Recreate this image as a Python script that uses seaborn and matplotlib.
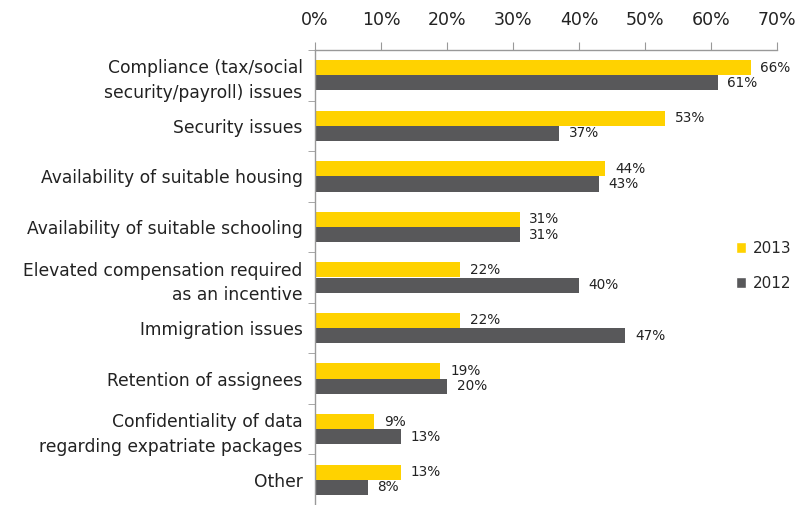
import matplotlib
matplotlib.use("Agg")
import matplotlib.pyplot as plt
import seaborn as sns
import pandas as pd
import numpy as np
from matplotlib.ticker import FixedLocator
from matplotlib.patches import Patch

categories = [
    "Compliance (tax/social\nsecurity/payroll) issues",
    "Security issues",
    "Availability of suitable housing",
    "Availability of suitable schooling",
    "Elevated compensation required\nas an incentive",
    "Immigration issues",
    "Retention of assignees",
    "Confidentiality of data\nregarding expatriate packages",
    "Other",
]
values_2013 = [66, 53, 44, 31, 22, 22, 19, 9, 13]
values_2012 = [61, 37, 43, 31, 40, 47, 20, 13, 8]
years = ["2013", "2012"]
xticks = [0, 10, 20, 30, 40, 50, 60, 70]

colors = {"2013": "#FFD200", "2012": "#58585A"}

df = pd.DataFrame({
    "category": categories * 2,
    "value": values_2013 + values_2012,
    "year": ["2013"] * len(categories) + ["2012"] * len(categories),
})

sns.set_style("white")
plt.rcParams["font.family"] = ["DejaVu Sans"]

fig = plt.figure(figsize=(8.09, 5.05), dpi=100)
ax = fig.add_axes([315 / 809, 0.0, (777 - 315) / 809, 1 - 50 / 505])

sns.barplot(data=df, y="category", x="value", hue="year", hue_order=years,
            order=categories, palette=colors, width=0.6, orient="h",
            saturation=1, ax=ax, legend=False, linewidth=0)

ax.set_xlim(0, 70)
ax.set_ylim(len(categories) - 0.5, -0.5)
ax.xaxis.tick_top()
ax.set_xticks(xticks)
ax.set_xticklabels([f"{t}%" for t in xticks], fontsize=12.5, color="#222222")
ax.tick_params(axis="x", direction="out", length=6, color="#999999", pad=9, top=True, bottom=False)
ax.set_xlabel("")
ax.set_ylabel("")

ax.tick_params(axis="y", which="major", length=0, pad=9, labelsize=12.3, labelcolor="#222222")
ax.yaxis.set_minor_locator(FixedLocator(np.arange(-0.5, len(categories), 1.0)))
ax.tick_params(axis="y", which="minor", direction="out", length=5, color="#999999", left=True)
for lab in ax.get_yticklabels():
    lab.set_linespacing(1.5)

for s in ["bottom", "right"]:
    ax.spines[s].set_visible(False)
for s in ["top", "left"]:
    ax.spines[s].set_color("#999999")
    ax.spines[s].set_linewidth(1)

for cont, vals in zip(ax.containers, [values_2013, values_2012]):
    ax.bar_label(cont, labels=[f"{v}%" for v in vals], padding=7, fontsize=9.8, color="#222222")

handles = [Patch(facecolor=colors[y], label=y) for y in years]
fig.legend(handles=handles, loc="center left", bbox_to_anchor=(722 / 809, 1 - 266 / 505),
           frameon=False, handlelength=0.7, handleheight=0.7, handletextpad=0.4,
           labelspacing=1.3, fontsize=11)

fig.savefig("out.png", dpi=100)
